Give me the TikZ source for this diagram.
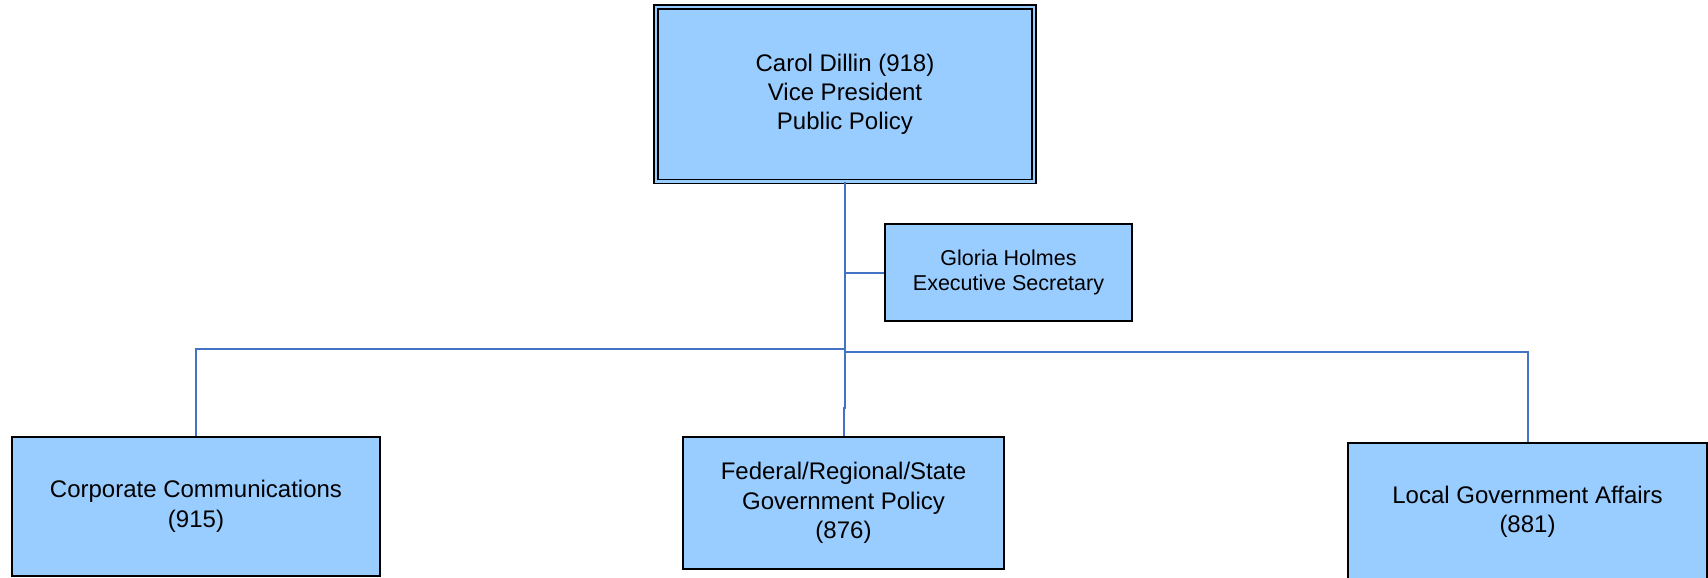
\documentclass[tikz,border=0pt]{standalone}
\usepackage{fontspec}
\setmainfont{Liberation Sans}
\definecolor{boxblue}{HTML}{99CCFF}
\definecolor{linkblue}{HTML}{4472C4}
\tikzset{
  orgbox/.style={draw=black, line width=1.8pt, fill=boxblue, inner sep=0pt, align=center},
  topbox/.style={orgbox, line width=1.5pt, double=boxblue, double distance=2.5pt},
  unitbox/.style={orgbox, font=\fontsize{24}{29.5}\selectfont},
  link/.style={draw=linkblue, line width=2pt}
}
\begin{document}
\begin{tikzpicture}[x=1pt, y=-1pt]

\useasboundingbox (0, 0) rectangle (1708, 578);
\clip (0, 0) rectangle (1708, 578);

\node[topbox, minimum width=378pt, minimum height=174.5pt, font=\fontsize{24}{29}\selectfont] (vp) at (845, 94.25) {Carol Dillin (918)\\Vice President\\Public Policy};

\node[orgbox, minimum width=247pt, minimum height=97pt, font=\fontsize{21.5}{25}\selectfont] (sec) at (1008.5, 272.5) {Gloria Holmes\\Executive Secretary};

\node[unitbox, minimum width=368pt, minimum height=139pt] (corp) at (196, 506.5) {Corporate Communications\\(915)};

\node[unitbox, minimum width=321pt, minimum height=132pt] (fed) at (843.5, 503) {Federal/Regional/State\\Government Policy\\(876)};

\node[unitbox, minimum width=359pt, minimum height=138pt] (local) at (1527.5, 512) {Local Government Affairs\\(881)};

\coordinate (jog) at (845, 408);
\coordinate (busL) at (845, 349);
\coordinate (busR) at (845, 352);

\draw[link] (vp.south) -- (jog) -| (fed.north);
\draw[link] (sec.west) -- (sec.west -| vp.south);
\draw[link] (busL) -| (corp.north);
\draw[link] (busR) -| (local.north);

\end{tikzpicture}
\end{document}
